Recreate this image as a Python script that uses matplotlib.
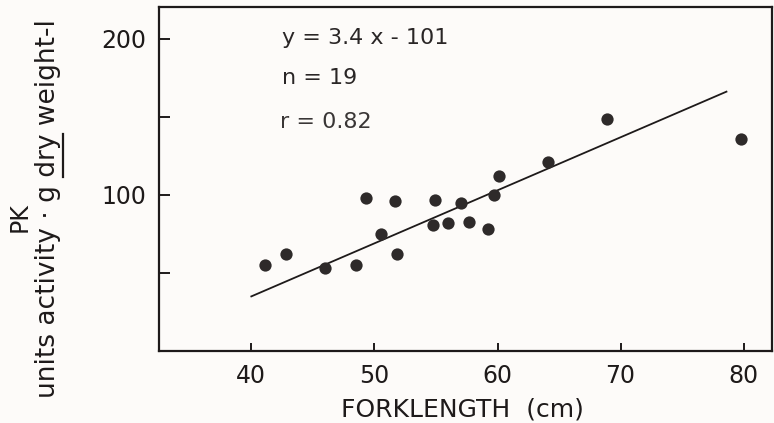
import numpy as np
import matplotlib
matplotlib.use("Agg")
import matplotlib.pyplot as plt

# fork length (cm) vs PK activity
forklength = [41.1, 42.8, 46.0, 48.5, 49.3, 50.5, 51.7, 51.8, 54.9, 54.8,
              56.0, 57.0, 57.7, 59.2, 59.7, 60.1, 64.1, 68.9, 79.8]
pk_activity = [55, 62, 53, 55, 98, 75, 96, 62, 97, 81,
               82, 95, 83, 78, 100, 112, 121, 149, 136]

# regression y = 3.4 x - 101, drawn over this range
slope, intercept = 3.4, -101
fit_range = [40, 78.6]

xticks = [40, 50, 60, 70, 80]
yticks = [100, 200]
yminor = [50, 150]

ink = "#1e1a1a"
bg = "#fdfbf9"

plt.rcParams['font.family'] = ['DejaVu Sans']

fig = plt.figure(figsize=(7.74, 4.23), dpi=100, facecolor=bg)
ax = fig.add_axes([159/774, 1 - 351/423, (772-159)/774, (351-7)/423])
ax.set_facecolor(bg)

ax.scatter(forklength, pk_activity, s=78, color="#2e2a2a", zorder=3, linewidths=0)
fx = np.array(fit_range)
ax.plot(fx, slope*fx + intercept, color=ink, lw=1.3, zorder=2)

ax.set_xlim(32.5, 82.3)
ax.set_ylim(0, 220.5)
ax.set_xticks(xticks)
ax.set_yticks(yticks)
ax.set_yticks(yminor, minor=True)

for s in ax.spines.values():
    s.set_linewidth(1.6)
    s.set_color(ink)

ax.tick_params(axis='x', direction='in', length=6, width=1.4, pad=9,
               labelsize=17, colors=ink)
ax.tick_params(axis='y', which='both', direction='in', length=8, width=1.4, pad=9,
               labelsize=17, colors=ink)

ax.text(42.5, 200.5, "y = 3.4 x - 101", fontsize=16, color="#2a2626", va='center', ha='left')
ax.text(42.5, 175, "n = 19", fontsize=16, color="#2a2626", va='center', ha='left')
ax.text(42.3, 147, "r = 0.82", fontsize=16, color="#3a3636", va='center', ha='left')

fig.text(462/774, 1 - 409/423, "FORKLENGTH  (cm)", fontsize=18, color=ink,
         ha='center', va='center')
fig.text(27/774, 1 - 217.5/423, "PK", fontsize=17, color=ink, rotation=90,
         rotation_mode='anchor', ha='center', va='baseline')

# y label second line, with "dry" underlined
pre, word, post = "units activity \u00b7 g ", "dry", " weight-l"
lab_fs = 19
lab_x, lab_y = 55, 209   # baseline x, centre y (pixels from top-left)
fig.text(lab_x/774, 1 - lab_y/423, pre + word + post, fontsize=lab_fs,
         color=ink, rotation=90, rotation_mode='anchor', ha='center', va='baseline')

# measure pieces to place the underline
r = fig.canvas.get_renderer()
def width_px(s):
    t = fig.text(0, 0, s, fontsize=lab_fs)
    w = t.get_window_extent(r).width
    t.remove()
    return w
W = width_px(pre + word + post)
p = width_px(pre + "|") - width_px("|")
d = width_px(word)
start = (423 - lab_y) - W/2          # bottom of text in display px
y0, y1 = start + p, start + p + d
ux = lab_x + 8                        # just past the baseline side
fig.add_artist(plt.Line2D([ux/774, ux/774], [y0/423, y1/423], color=ink, lw=1.6,
                          transform=fig.transFigure))

fig.savefig("out.png", dpi=100, facecolor=bg)
